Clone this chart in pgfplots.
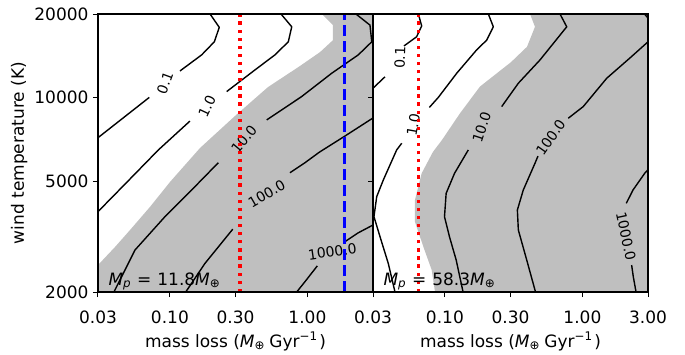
\documentclass[border=0pt]{standalone}
\usepackage{fontspec}
\setmainfont{DejaVu Sans}
\usepackage{pgfplots}
\pgfplotsset{compat=1.18}
\definecolor{fillgray}{RGB}{191,191,191}
\definecolor{mplred}{RGB}{255,0,0}
\definecolor{mplblue}{RGB}{0,0,255}
\newcommand{\clbl}{\fontsize{14}{14}\selectfont}
\newcommand{\bigfnt}{\fontsize{17}{17}\selectfont}
\begin{document}
\begin{tikzpicture}
\pgfplotsset{
  panel/.style={
    scale only axis, width=275pt, height=278pt,
    xmin=0, xmax=2, ymin=0, ymax=1,
    axis on top,
    axis line style={line width=1.3pt},
    tick style={line width=1pt, black},
    major tick length=5pt,
    tick align=outside, xtick pos=bottom, ytick pos=left,
    xtick={0,0.5229,1,1.5229,2},
    ytick={0,0.3979,0.6990,1},
    minor tick num=0,
    ticklabel style={font=\bigfnt},
    xticklabel style={yshift=-10pt},
    yticklabel style={xshift=-1pt},
    label style={font=\bigfnt},
    xlabel style={yshift=-2pt},
    /pgf/number format/assume math mode=true,
    xlabel={mass loss (\textit{M}\textsubscript{⊕}\hspace{0.25em}Gyr\textsuperscript{−1}\hspace{0.1em})},
    clip=true,
  },
  contour/.style={black, line width=1.4pt, line join=round, mark=none},
}
% ---------------- left panel: M_p = 11.8 ----------------
\begin{axis}[panel, at={(0,0)}, anchor=south west,
  xticklabels={0.03,0.10,0.30,1.00,{}},
  yticklabels={2000,5000,10000,20000},
  ylabel={wind temperature (K)}]
\addplot[fill=fillgray, draw=none] coordinates {
 (0,0) (0,0.097) (0.124,0.162) (0.233,0.223) (0.378,0.306) (0.524,0.396)
 (0.742,0.518) (0.996,0.633) (1.236,0.737) (1.469,0.813) (1.615,0.863)
 (1.709,0.906) (1.709,0.960) (1.629,1.0) (2,1) (2,0)} -- cycle;
% 0.1
\addplot[contour] coordinates {(0,0.555) (0.373,0.700)};
\addplot[contour] coordinates {(0.596,0.795) (0.754,0.853) (0.846,0.900) (0.882,0.952) (0.815,1.0)};
% 1.0
\addplot[contour] coordinates {(0,0.289) (0.22,0.40) (0.439,0.511) (0.669,0.615)};
\addplot[contour] coordinates {(0.936,0.721) (1.142,0.799) (1.287,0.853) (1.384,0.900) (1.409,0.954) (1.331,1.0)};
% 10.0
\addplot[contour] coordinates {(0.116,0) (0.269,0.151) (0.487,0.271) (0.705,0.379) (0.875,0.465)};
\addplot[contour] coordinates {(1.227,0.619) (1.481,0.703) (1.700,0.787) (1.893,0.853) (1.991,0.900) (1.978,0.960) (1.876,1.0)};
% 100.0
\addplot[contour] coordinates {(0.638,0) (0.778,0.103) (0.980,0.226)};
\addplot[contour] coordinates {(1.396,0.429) (1.505,0.465) (1.61,0.503) (1.796,0.561) (2.0,0.626)};
% 1000.0
\addplot[contour] coordinates {(1.445,0) (1.505,0.037) (1.595,0.094)};
\addplot[contour] coordinates {(1.796,0.181) (1.893,0.213) (2.0,0.241)};
% labels
\node[rotate=70, font=\clbl] at (axis cs:0.487,0.752) {0.1};
\node[rotate=65, font=\clbl] at (axis cs:0.793,0.669) {1.0};
\node[rotate=50, font=\clbl] at (axis cs:1.062,0.549) {10.0};
\node[rotate=30, font=\clbl] at (axis cs:1.227,0.353) {100.0};
\node[rotate=8, font=\clbl] at (axis cs:1.704,0.145) {1000.0};
% lines
\addplot[mplred, line width=3.3pt, dash pattern=on 3.3pt off 4.8pt] coordinates {(1.033,0) (1.033,1)};
\addplot[mplblue, line width=3pt, dash pattern=on 11pt off 5pt] coordinates {(1.791,0) (1.791,1)};
\node[anchor=base west, font=\bigfnt, inner sep=0pt] at (axis cs:0.075,0.025)
  {\textit{M}\textsubscript{\textit{p}}\hspace{0.35em}=\hspace{0.35em}11.8\textit{M}\textsubscript{⊕}};
\end{axis}
% ---------------- right panel: M_p = 58.3 ----------------
\begin{axis}[panel, at={(275pt,0)}, anchor=south west,
  xticklabels={0.03,0.10,0.30,1.00,3.00},
  yticklabels={}]
\addplot[fill=fillgray, draw=none] coordinates {
 (0.451,0) (0.427,0.079) (0.366,0.163) (0.305,0.253) (0.305,0.331) (0.354,0.427)
 (0.436,0.504) (0.502,0.547) (0.633,0.643) (0.778,0.739) (1.004,0.827)
 (1.120,0.882) (1.178,0.954) (1.142,1.0) (2,1) (2,0)} -- cycle;
% 0.1
\addplot[contour] coordinates {(0,0.733) (0.087,0.774)};
\addplot[contour] coordinates {(0.225,0.885) (0.317,0.918) (0.354,0.957) (0.33,1.0)};
% 1.0
\addplot[contour] coordinates {(0.160,0) (0.111,0.103) (0.051,0.199) (0.007,0.271) (0.027,0.343) (0.075,0.403) (0.172,0.511) (0.209,0.535)};
\addplot[contour] coordinates {(0.410,0.664) (0.475,0.700) (0.609,0.787) (0.754,0.871) (0.827,0.906) (0.875,0.954) (0.839,1.0)};
% 10.0
\addplot[contour] coordinates {(0.655,0) (0.605,0.115) (0.556,0.199) (0.520,0.271) (0.532,0.355) (0.593,0.427) (0.693,0.511)};
\addplot[contour] coordinates {(0.936,0.667) (1.057,0.751) (1.215,0.835) (1.360,0.924) (1.409,0.954) (1.360,1.0)};
% 100.0
\addplot[contour] coordinates {(1.182,0) (1.118,0.115) (1.057,0.223) (1.050,0.295) (1.093,0.367) (1.178,0.463) (1.200,0.489)};
\addplot[contour] coordinates {(1.420,0.625) (1.529,0.667) (1.700,0.769) (1.869,0.842) (2.0,0.9)};
% 1000.0
\addplot[contour] coordinates {(2.0,0.44) (1.976,0.427) (1.891,0.367) (1.842,0.319)};
\addplot[contour] coordinates {(1.881,0.097) (1.893,0.055) (1.913,0)};
\addplot[contour] coordinates {(1.975,1.0) (2.0,0.985)};
% labels
\node[rotate=88, font=\clbl] at (axis cs:0.196,0.843) {0.1};
\node[rotate=80, font=\clbl] at (axis cs:0.293,0.601) {1.0};
\node[rotate=72, font=\clbl] at (axis cs:0.790,0.592) {10.0};
\node[rotate=55, font=\clbl] at (axis cs:1.292,0.556) {100.0};
\node[rotate=-78, font=\clbl] at (axis cs:1.840,0.201) {1000.0};
% line
\addplot[mplred, line width=3.3pt, dash pattern=on 3.3pt off 4.8pt] coordinates {(0.329,0) (0.329,1)};
\node[anchor=base west, font=\bigfnt, inner sep=0pt] at (axis cs:0.075,0.025)
  {\textit{M}\textsubscript{\textit{p}}\hspace{0.35em}=\hspace{0.35em}58.3\textit{M}\textsubscript{⊕}};
\end{axis}
\pgfresetboundingbox
\path[use as bounding box] (-98pt,-62pt) rectangle (587pt,292pt);
\end{tikzpicture}
\end{document}
